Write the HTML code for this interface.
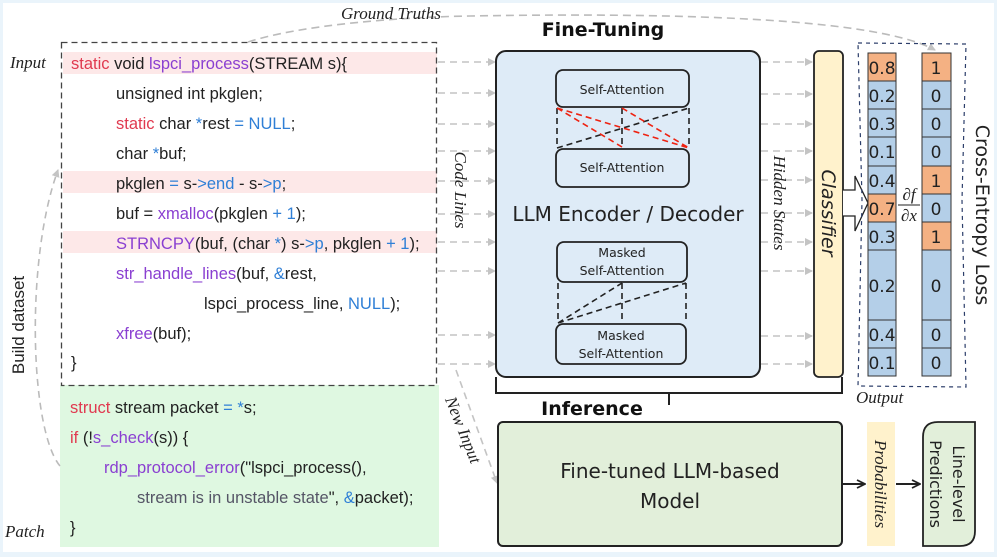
<!DOCTYPE html>
<html><head><meta charset="utf-8"><style>
html,body{margin:0;padding:0;background:#eaf4fb;}
svg{display:block}
.c{font-family:"Liberation Sans",sans-serif;font-size:16.5px;fill:#222}
.r{fill:#e0394f}.b{fill:#2f7fd6}.p{fill:#8a3fd1}.g{fill:#556}
.it{font-family:"Liberation Serif",serif;font-style:italic;font-size:17px;fill:#222}
.ca{font-family:"DejaVu Sans",sans-serif;fill:#222}
</style></head><body>
<svg width="997" height="557" viewBox="0 0 997 557" xmlns="http://www.w3.org/2000/svg">
<defs>
<marker id="ag" markerWidth="8" markerHeight="8" refX="7" refY="4" orient="auto" markerUnits="userSpaceOnUse"><path d="M0,0 L8,4 L0,8 Z" fill="#c4c4c4"/></marker>
<marker id="ab" markerWidth="10" markerHeight="10" refX="9" refY="5" orient="auto" markerUnits="userSpaceOnUse"><path d="M1,1 L9,5 L1,9" fill="none" stroke="#222" stroke-width="1.8"/></marker>
</defs>
<rect x="3" y="3" width="991" height="549" fill="#fff"/>
<rect x="63" y="52" width="374" height="22" fill="#fde8e8"/>
<rect x="63" y="171" width="374" height="22" fill="#fde8e8"/>
<rect x="63" y="231" width="374" height="22" fill="#fde8e8"/>
<rect x="60" y="385" width="379" height="162" fill="#dff8e1"/>
<rect x="61.5" y="42.5" width="375" height="343" fill="none" stroke="#444" stroke-width="1.3" stroke-dasharray="6,4"/>
<text class="c" x="71" y="69"><tspan class="r">static</tspan> void <tspan class="p">lspci_process</tspan>(STREAM s){</text>
<text class="c" x="116" y="99">unsigned int pkglen;</text>
<text class="c" x="116" y="129"><tspan class="r">static</tspan> char <tspan class="b">*</tspan>rest <tspan class="b">=</tspan> <tspan class="b">NULL</tspan>;</text>
<text class="c" x="116" y="159">char <tspan class="b">*</tspan>buf;</text>
<text class="c" x="116" y="189">pkglen <tspan class="b">=</tspan> s-<tspan class="b">&gt;end</tspan> - s-<tspan class="b">&gt;p</tspan>;</text>
<text class="c" x="116" y="219">buf = <tspan class="p">xmalloc</tspan>(pkglen <tspan class="b">+</tspan> <tspan class="b">1</tspan>);</text>
<text class="c" x="116" y="249"><tspan class="p">STRNCPY</tspan>(buf, (char <tspan class="b">*</tspan>) s-<tspan class="b">&gt;p</tspan>, pkglen <tspan class="b">+</tspan> <tspan class="b">1</tspan>);</text>
<text class="c" x="116" y="279"><tspan class="p">str_handle_lines</tspan>(buf, <tspan class="b">&amp;</tspan>rest,</text>
<text class="c" x="204" y="309">lspci_process_line, <tspan class="b">NULL</tspan>);</text>
<text class="c" x="116" y="339"><tspan class="p">xfree</tspan>(buf);</text>
<text class="c" x="71" y="368">}</text>
<text class="c" x="70" y="413"><tspan class="r">struct</tspan> stream packet <tspan class="b">=</tspan> <tspan class="b">*</tspan>s;</text>
<text class="c" x="70" y="443"><tspan class="r">if</tspan> (!<tspan class="p">s_check</tspan>(s)) {</text>
<text class="c" x="104" y="473"><tspan class="p">rdp_protocol_error</tspan>("lspci_process(),</text>
<text class="c" x="137" y="503"><tspan class="g">stream is in unstable state</tspan>", <tspan class="b">&amp;</tspan>packet);</text>
<text class="c" x="70" y="533">}</text>
<text class="it" x="10" y="68" font-size="18">Input</text>
<text class="it" x="5" y="537" font-size="18">Patch</text>
<text x="0" y="0" transform="translate(24,325) rotate(-90)" text-anchor="middle" font-family="Liberation Sans,sans-serif" font-size="17" fill="#222">Build dataset</text>
<path d="M60,466 C30,430 25,260 58,170" fill="none" stroke="#bbb" stroke-width="1.6" stroke-dasharray="7,5" marker-end="url(#ag)"/>
<path d="M248,42 C300,25 400,17 470,16 C700,12 880,20 935,50" fill="none" stroke="#bbb" stroke-width="1.6" stroke-dasharray="8,5" marker-end="url(#ag)"/>
<text class="it" x="341" y="19" font-size="19">Ground Truths</text>
<g stroke="#c4c4c4" stroke-width="1.6" stroke-dasharray="7,5" fill="none" marker-end="url(#ag)">
<path d="M438,62 H495"/><path d="M438,93 H495"/><path d="M438,124 H495"/><path d="M438,151 H495"/><path d="M438,181 H495"/><path d="M438,214 H495"/><path d="M438,242 H495"/><path d="M438,271 H495"/><path d="M438,335 H495"/><path d="M438,364 H495"/>
<path d="M761,62 H812"/><path d="M761,94 H812"/><path d="M761,124 H812"/><path d="M761,151 H812"/><path d="M761,180 H812"/><path d="M761,213 H812"/><path d="M761,242 H812"/><path d="M761,271 H812"/><path d="M761,336 H812"/><path d="M761,364 H812"/>
<path d="M456,370 L497,483"/>
</g>
<text class="it" transform="translate(455,190) rotate(90)" text-anchor="middle" font-size="21">Code Lines</text>
<text class="it" transform="translate(774,203) rotate(90)" text-anchor="middle" font-size="20">Hidden States</text>
<text class="it" transform="translate(458,432) rotate(68)" text-anchor="middle" font-size="18">New Input</text>
<text x="603" y="36" text-anchor="middle" font-family="DejaVu Sans,sans-serif" font-weight="bold" font-size="19" fill="#111">Fine-Tuning</text>
<rect x="496" y="51" width="264" height="326" rx="10" fill="#deebf7" stroke="#222" stroke-width="2"/>
<g fill="#deebf7" stroke="#222" stroke-width="1.8">
<rect x="556" y="70" width="133" height="37" rx="7"/><rect x="556" y="149" width="133" height="38" rx="7"/>
<rect x="557" y="242" width="130" height="40" rx="7"/><rect x="556" y="324" width="130" height="40" rx="7"/>
</g>
<g fill="none" stroke-width="1.6" stroke-dasharray="6,4">
<path d="M557,108 V148 M689,108 V148" stroke="#222"/>
<path d="M557,148 L689,108 M557,148 L623,128 M622,108 V148" stroke="#222"/>
<path d="M557,108 L689,148 M557,108 L622,147 M622,108 L689,148" stroke="#e21"/>
<path d="M558,283 V323 M686,283 V323 M558,323 L686,283 M558,323 L622,283 M622,283 V323" stroke="#222"/>
</g>
<g class="ca" font-size="12.5" text-anchor="middle">
<text x="622" y="94">Self-Attention</text><text x="622" y="172">Self-Attention</text>
<text x="622" y="257">Masked</text><text x="622" y="275">Self-Attention</text>
<text x="621" y="340">Masked</text><text x="621" y="358">Self-Attention</text>
</g>
<text class="ca" x="628" y="221" text-anchor="middle" font-size="20">LLM Encoder / Decoder</text>
<rect x="814" y="51" width="29" height="326" rx="5" fill="#fff2cc" stroke="#222" stroke-width="1.8"/>
<text class="ca" transform="translate(822,213) rotate(90)" text-anchor="middle" font-size="19" font-style="italic">Classifier</text>
<path d="M843,190 H855 V176 L868,203 L855,231 V216 H843" fill="#fff" stroke="#222" stroke-width="1.3"/>
<path d="M858,43 L966,44 L962,200 L966,387 L858,386 L862,200 Z" fill="none" stroke="#2c3e6a" stroke-width="1.2" stroke-dasharray="4,4"/>
<g stroke="#333" stroke-width="1">
<rect x="868" y="53" width="28" height="28" fill="#f4b183"/><rect x="868" y="81" width="28" height="28" fill="#b4cfe8"/><rect x="868" y="109" width="28" height="28" fill="#b4cfe8"/><rect x="868" y="137" width="28" height="29" fill="#b4cfe8"/><rect x="868" y="166" width="28" height="28" fill="#b4cfe8"/><rect x="868" y="194" width="28" height="28" fill="#f4b183"/><rect x="868" y="222" width="28" height="28" fill="#b4cfe8"/><rect x="868" y="250" width="28" height="70" fill="#b4cfe8"/><rect x="868" y="320" width="28" height="28" fill="#b4cfe8"/><rect x="868" y="348" width="28" height="28" fill="#b4cfe8"/>
<rect x="922" y="53" width="29" height="28" fill="#f4b183"/><rect x="922" y="81" width="29" height="28" fill="#b4cfe8"/><rect x="922" y="109" width="29" height="28" fill="#b4cfe8"/><rect x="922" y="137" width="29" height="29" fill="#b4cfe8"/><rect x="922" y="166" width="29" height="28" fill="#f4b183"/><rect x="922" y="194" width="29" height="28" fill="#b4cfe8"/><rect x="922" y="222" width="29" height="28" fill="#f4b183"/><rect x="922" y="250" width="29" height="70" fill="#b4cfe8"/><rect x="922" y="320" width="29" height="28" fill="#b4cfe8"/><rect x="922" y="348" width="29" height="28" fill="#b4cfe8"/>
</g>
<g class="ca" font-size="17" text-anchor="middle">
<text x="882" y="74">0.8</text><text x="882" y="102">0.2</text><text x="882" y="130">0.3</text><text x="882" y="158">0.1</text><text x="882" y="187">0.4</text><text x="882" y="215">0.7</text><text x="882" y="243">0.3</text><text x="882" y="292">0.2</text><text x="882" y="341">0.4</text><text x="882" y="369">0.1</text>
<text x="936" y="74">1</text><text x="936" y="102">0</text><text x="936" y="130">0</text><text x="936" y="158">0</text><text x="936" y="187">1</text><text x="936" y="215">0</text><text x="936" y="243">1</text><text x="936" y="292">0</text><text x="936" y="341">0</text><text x="936" y="369">0</text>
</g>
<text x="909" y="200" text-anchor="middle" font-family="Liberation Serif,serif" font-style="italic" font-size="17" fill="#222">∂f</text>
<line x1="898" y1="205" x2="920" y2="205" stroke="#222" stroke-width="1"/>
<text x="909" y="221" text-anchor="middle" font-family="Liberation Serif,serif" font-style="italic" font-size="17" fill="#222">∂x</text>
<text class="ca" transform="translate(976,215) rotate(90)" text-anchor="middle" font-size="19">Cross-Entropy Loss</text>
<text class="it" x="856" y="403" font-size="16">Output</text>
<path d="M496,377 V393 H669 V405 M669,393 H842 V377" fill="none" stroke="#222" stroke-width="2"/>
<text x="592" y="415" text-anchor="middle" font-family="DejaVu Sans,sans-serif" font-weight="bold" font-size="19" fill="#111">Inference</text>
<rect x="498" y="422" width="344" height="124" rx="5" fill="#e2efda" stroke="#222" stroke-width="2"/>
<text class="ca" x="670" y="478" text-anchor="middle" font-size="20">Fine-tuned LLM-based</text>
<text class="ca" x="670" y="508" text-anchor="middle" font-size="20">Model</text>
<rect x="867" y="422" width="28" height="124" fill="#fff2cc"/>
<text class="it" transform="translate(875,484) rotate(90)" text-anchor="middle" font-size="16">Probabilities</text>
<path d="M923,546 V437 Q923,422 938,422 H975 V531 Q975,546 960,546 Z" fill="#e2efda" stroke="#222" stroke-width="1.8"/>
<text class="ca" transform="translate(930,484) rotate(90)" text-anchor="middle" font-size="16">Predictions</text>
<text class="ca" transform="translate(953,484) rotate(90)" text-anchor="middle" font-size="16">Line-level</text>
<line x1="842" y1="484" x2="865" y2="484" stroke="#222" stroke-width="2" marker-end="url(#ab)"/>
<line x1="896" y1="484" x2="920" y2="484" stroke="#222" stroke-width="2" marker-end="url(#ab)"/>
</svg>
</body></html>
